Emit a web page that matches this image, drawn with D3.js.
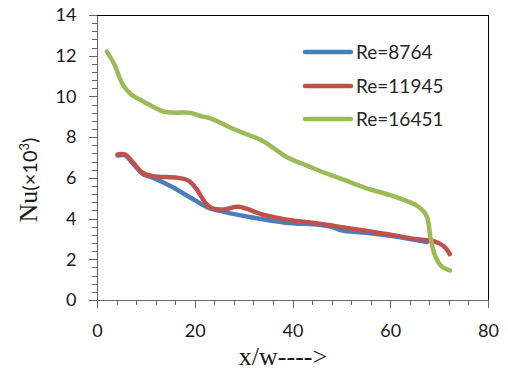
<!DOCTYPE html>
<html>
<head>
<meta charset="utf-8">
<script src="https://cdn.jsdelivr.net/npm/d3@7"></script>
<style>
  body { margin: 0; background: #fff; }
  svg { display: block; }
</style>
</head>
<body>
<div id="chart"></div>
<script>
const seriesNames = ["Re=8764", "Re=11945", "Re=16451"];
const seriesColors = ["#4a7ebb", "#c0504d", "#9bbb59"];

// x/w values and Nu (x10^3)
const re8764X = [4.2, 5.8, 7.2, 9.3, 11.5, 15, 19, 22.6, 26, 31.8, 38.6, 45.4, 48, 50, 55, 60, 64, 67.5];
const re8764Y = [7.1, 7.1, 6.75, 6.2, 6.0, 5.6, 5.05, 4.55, 4.33, 4.05, 3.8, 3.7, 3.6, 3.42, 3.3, 3.15, 3.0, 2.85];

const re11945X = [4.2, 5.8, 7.2, 9.3, 11.5, 16.5, 18.8, 20.5, 22.2, 23.6, 26, 29, 33.8, 38.6, 44, 48.8, 55, 60.3, 65.4, 69, 70.9, 72.2];
const re11945Y = [7.15, 7.15, 6.8, 6.25, 6.08, 6.0, 5.85, 5.4, 4.77, 4.5, 4.45, 4.58, 4.2, 3.96, 3.8, 3.63, 3.4, 3.2, 2.98, 2.88, 2.65, 2.25];

const re16451X = [2, 3.5, 4.5, 5.5, 7, 9.5, 13.5, 16, 19, 21, 23.5, 27, 30, 34, 39, 43, 46, 50, 55, 60, 64, 66, 67.5, 68.2, 69.2, 70.5, 72.2];
const re16451Y = [12.2, 11.6, 11.0, 10.5, 10.1, 9.75, 9.27, 9.2, 9.2, 9.05, 8.9, 8.5, 8.2, 7.8, 7.0, 6.6, 6.3, 5.95, 5.5, 5.15, 4.8, 4.55, 4.1, 3.1, 2.15, 1.65, 1.45];

const xMajor = [0, 20, 40, 60, 80];
const yMajor = [0, 2, 4, 6, 8, 10, 12, 14];

const w = 508;
const h = 374;
const plotLeft = 97, plotRight = 488, plotTop = 15, plotBottom = 300;

const series = [
  { name: seriesNames[0], color: seriesColors[0], pts: re8764X.map((x, i) => [x, re8764Y[i]]) },
  { name: seriesNames[1], color: seriesColors[1], pts: re11945X.map((x, i) => [x, re11945Y[i]]) },
  { name: seriesNames[2], color: seriesColors[2], pts: re16451X.map((x, i) => [x, re16451Y[i]]) }
];

const x = d3.scaleLinear().domain([0, 80]).range([plotLeft, plotRight]);
const y = d3.scaleLinear().domain([0, 14]).range([plotBottom, plotTop]);

const svg = d3.select("#chart").append("svg").attr("width", w).attr("height", h);

// plot area border (top and right black)
svg.append("rect")
  .attr("x", plotLeft + 0.5).attr("y", plotTop + 0.5)
  .attr("width", plotRight - plotLeft).attr("height", plotBottom - plotTop)
  .attr("fill", "none").attr("stroke", "#000").attr("stroke-width", 1);

const line = d3.line()
  .x((d) => x(d[0]))
  .y((d) => y(d[1]))
  .curve(d3.curveCatmullRom.alpha(0.5));

svg.selectAll("path.series")
  .data(series)
  .enter()
  .append("path")
  .attr("class", "series")
  .attr("d", (d) => line(d.pts))
  .attr("fill", "none")
  .attr("stroke", (d) => d.color)
  .attr("stroke-width", 4.5)
  .attr("stroke-linecap", "round")
  .attr("stroke-linejoin", "round");

// minor ticks
const xMinor = d3.range(0, 80.1, 4).filter((v) => v % 20 !== 0);
const yMinor = d3.range(0, 14.01, 0.4).map((v) => +v.toFixed(1)).filter((v) => Math.abs(v / 2 - Math.round(v / 2)) > 1e-6);

const axisColor = "#666";
const labelFont = "Lato, 'Open Sans', sans-serif";

svg.append("g")
  .attr("transform", `translate(0,${plotBottom})`)
  .call(d3.axisBottom(x).tickValues(xMinor).tickSize(5).tickFormat(""))
  .call((g) => g.select(".domain").remove());

svg.append("g")
  .attr("transform", `translate(${plotLeft},0)`)
  .call(d3.axisLeft(y).tickValues(yMinor).tickSize(5).tickFormat(""))
  .call((g) => g.select(".domain").remove());

svg.append("g")
  .attr("transform", `translate(0,${plotBottom})`)
  .call(d3.axisBottom(x).tickValues(xMajor).tickSize(8).tickPadding(16).tickSizeOuter(0));

svg.append("g")
  .attr("transform", `translate(${plotLeft},0)`)
  .call(d3.axisLeft(y).tickValues(yMajor).tickSize(8).tickPadding(12.5).tickSizeOuter(0));

svg.selectAll(".tick line")
  .attr("stroke", axisColor)
  .attr("shape-rendering", "crispEdges");
svg.selectAll(".domain")
  .attr("stroke", axisColor)
  .attr("shape-rendering", "crispEdges");
svg.selectAll(".tick text")
  .attr("font-family", labelFont)
  .attr("font-size", 18)
  .attr("fill", "#1a1a1a");

// axis titles
svg.append("text")
  .attr("x", 283)
  .attr("y", 365)
  .attr("text-anchor", "middle")
  .attr("font-family", "'Liberation Serif', 'Times New Roman', serif")
  .attr("font-size", 26)
  .attr("fill", "#1a1a1a")
  .text("x/w---->");

const yTitle = svg.append("text")
  .attr("transform", "translate(37,180) rotate(-90)")
  .attr("text-anchor", "middle")
  .attr("fill", "#1a1a1a");
yTitle.append("tspan")
  .attr("font-family", "'Liberation Serif', 'Times New Roman', serif")
  .attr("font-size", 26)
  .text("Nu");
yTitle.append("tspan")
  .attr("font-family", labelFont)
  .attr("font-size", 20)
  .text("(×10");
yTitle.append("tspan")
  .attr("font-family", labelFont)
  .attr("font-size", 13)
  .attr("dy", -8)
  .text("3");
yTitle.append("tspan")
  .attr("font-family", labelFont)
  .attr("font-size", 20)
  .attr("dy", 8)
  .text(")");

// legend
const legendY = [52, 86, 119];
const legend = svg.selectAll("g.legend")
  .data(series)
  .enter()
  .append("g")
  .attr("class", "legend")
  .attr("transform", (d, i) => `translate(305,${legendY[i]})`);

legend.append("line")
  .attr("x1", 0).attr("x2", 46)
  .attr("y1", 0).attr("y2", 0)
  .attr("stroke", (d) => d.color)
  .attr("stroke-width", 4.5)
  .attr("stroke-linecap", "round");

legend.append("text")
  .attr("x", 51)
  .attr("y", 0)
  .attr("dy", "0.36em")
  .attr("font-family", labelFont)
  .attr("font-size", 19)
  .attr("fill", "#262626")
  .text((d) => d.name);
</script>
</body>
</html>
